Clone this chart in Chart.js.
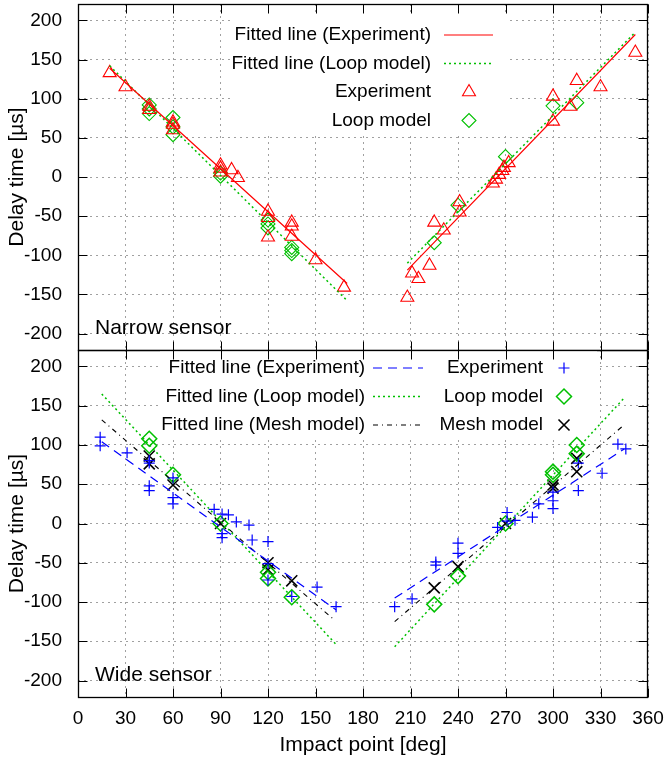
<!DOCTYPE html>
<html>
<head>
<meta charset="utf-8">
<script src="https://cdn.jsdelivr.net/npm/chart.js@4/dist/chart.umd.min.js"></script>
<style>
  html, body { margin: 0; padding: 0; background: #fff; }
  #wrap { position: relative; width: 664px; height: 760px; }
  #wrap canvas { position: absolute; left: 0; }
</style>
</head>
<body>
<div id="wrap">
  <canvas id="narrow" width="664" height="352" style="top:0"></canvas>
  <canvas id="wide" width="664" height="412" style="top:348px"></canvas>
</div>
<script>
var degTicks = [0, 30, 60, 90, 120, 150, 180, 210, 240, 270, 300, 330, 360];
var delayTicks = [-200, -150, -100, -50, 0, 50, 100, 150, 200];

// narrow sensor
var narrowExpDeg = [20, 30, 45, 45, 60, 60, 60, 90, 90, 90, 97, 101, 120, 120, 120, 135, 135, 135, 150, 168,
                    208, 211, 215, 222, 225, 231, 241, 241, 262, 264, 266, 268, 269, 272, 300, 300, 311, 315, 330, 352];
var narrowExpDelay = [133, 115, 90, 86, 70, 67, 60, 15, 11, 6, 9, -1, -44, -52, -77, -58, -63, -76, -106, -141,
                      -154, -123, -130, -113, -58, -68, -32, -45, -8, -3, 3, 8, 12, 18, 103, 71, 90, 123, 115, 159];
var narrowLoopDeg = [45, 45, 45, 60, 60, 60, 90, 90, 120, 120, 120, 135, 135, 135, 225, 240, 270, 300, 315];
var narrowLoopDelay = [92, 87, 81, 76, 64, 54, 5, 1, -55, -60, -65, -90, -94, -98, -84, -36, 26, 91, 95];
var narrowFitExpDeg = [20, 170, 208, 352];
var narrowFitExpDelay = [139, -136, -119, 182];
var narrowFitLoopDeg = [20, 170, 208, 352];
var narrowFitLoopDelay = [142, -158, -110, 185];

// wide sensor
var wideExpDeg = [14, 14, 31, 45, 45, 45, 45, 60, 60, 60, 86, 91, 91, 91, 95, 100, 108, 110, 120, 120, 120, 135, 151, 163,
                  200, 211, 226, 226, 240, 240, 265, 271, 271, 276, 287, 291, 300, 300, 300, 316, 316, 331, 341, 346];
var wideExpDelay = [110, 99, 90, 80, 77, 48, 42, 58, 33, 25, 18, 12, -13, -18, 11, 2, -2, -21, -23, -51, -72, -93, -81, -106,
                    -106, -96, -49, -53, -25, -38, -5, 3, 14, 4, 8, 25, 40, 29, 19, 77, 42, 64, 101, 95];
var wideLoopDeg = [45, 45, 60, 90, 120, 120, 135, 225, 240, 270, 300, 300, 315, 315];
var wideLoopDelay = [108, 99, 62, 0, -62, -70, -94, -103, -67, 0, 66, 62, 100, 89];
var wideMeshDeg = [45, 45, 60, 90, 120, 120, 135, 225, 240, 270, 300, 300, 315, 315];
var wideMeshDelay = [86, 76, 49, 0, -50, -59, -73, -82, -55, 0, 49, 45, 83, 66];
var wideFitExpDeg = [15, 163, 200, 345];
var wideFitExpDelay = [104, -110, -95, 95];
var wideFitLoopDeg = [15, 163, 200, 345];
var wideFitLoopDelay = [165, -154, -157, 160];
var wideFitMeshDeg = [15, 162, 200, 344];
var wideFitMeshDelay = [132, -123, -125, 124];

var FONT = '"Liberation Sans", Arial, sans-serif';
var RED = '#ff0000', GREEN = '#00c000', BLUE = '#0000ff', BLACK = '#000000';
var GRID = '#a0a0a0';

function pts(xs, ys) {
    return xs.map(function (x, i) { return { x: x, y: ys[i] }; });
}

// pairs of points -> separate segments with a gap between them
function segs(xs, ys) {
    var out = [];
    for (var i = 0; i < xs.length; i += 2) {
        if (i > 0) out.push({ x: (xs[i - 1] + xs[i]) / 2, y: null });
        out.push({ x: xs[i], y: ys[i] }, { x: xs[i + 1], y: ys[i + 1] });
    }
    return out;
}

function markerSet(label, xs, ys, color, style, radius, width) {
    return {
        label: label, data: pts(xs, ys), showLine: false,
        borderColor: color, backgroundColor: 'rgba(0,0,0,0)',
        pointStyle: style, pointRadius: radius, pointHoverRadius: radius,
        pointBorderWidth: width, borderWidth: width
    };
}

function fitSet(label, xs, ys, color, dash, width) {
    return {
        label: label, data: segs(xs, ys), showLine: true, spanGaps: false,
        borderColor: color, backgroundColor: color, borderDash: dash,
        borderWidth: width, pointRadius: 0, pointHoverRadius: 0, fill: false
    };
}

function xScale(showLabels) {
    return {
        type: 'linear', min: 0, max: 360,
        afterBuildTicks: function (s) { s.ticks = degTicks.map(function (v) { return { value: v }; }); },
        afterFit: function (s) {
            s.height = showLabels ? 63 : 0;
            s.paddingLeft = 0; s.paddingRight = 0; s.paddingTop = 0; s.paddingBottom = 0;
        },
        grid: { color: GRID, lineWidth: 1, drawTicks: false },
        border: { display: false, dash: [2, 4] },
        ticks: { display: showLabels, font: { family: FONT, size: 19 }, color: '#000', padding: 10, maxRotation: 0, autoSkip: false }
    };
}

function yScale() {
    return {
        type: 'linear', min: -221, max: 221,
        afterBuildTicks: function (s) { s.ticks = delayTicks.map(function (v) { return { value: v }; }); },
        afterFit: function (s) {
            s.width = 78;
            s.paddingLeft = 0; s.paddingRight = 0; s.paddingTop = 0; s.paddingBottom = 0;
        },
        grid: { color: GRID, lineWidth: 1, drawTicks: false },
        border: { display: false, dash: [2, 4] },
        ticks: { font: { family: FONT, size: 19 }, color: '#000', padding: 16, autoSkip: false }
    };
}

// gnuplot-like frame: border, inward ticks, opaque key, labels
var gnuFrame = {
    id: 'gnuFrame',
    beforeDatasetsDraw: function (chart, args, opts) {
        var ctx = chart.ctx, b = opts.keyBox;
        ctx.save();
        ctx.fillStyle = '#fff';
        ctx.fillRect(b[0], b[1], b[2], b[3]);
        ctx.restore();
    },
    afterDatasetsDraw: function (chart, args, opts) {
        var ctx = chart.ctx, a = chart.chartArea;
        var xs = chart.scales.x, ys = chart.scales.y;
        var L = Math.round(a.left) + 0.5, R = Math.round(a.right) - 0.5;
        var T = Math.round(a.top) + 0.5, B = Math.round(a.bottom) + 0.5;
        ctx.save();
        ctx.strokeStyle = '#000';
        ctx.lineWidth = 1;
        ctx.setLineDash([]);
        ctx.beginPath();
        degTicks.forEach(function (v) {
            var px = Math.round(xs.getPixelForValue(v)) + 0.5;
            ctx.moveTo(px, B); ctx.lineTo(px, B - 9);
            ctx.moveTo(px, T); ctx.lineTo(px, T + 9);
        });
        delayTicks.forEach(function (v) {
            var py = Math.round(ys.getPixelForValue(v)) + 0.5;
            ctx.moveTo(L, py); ctx.lineTo(L + 9, py);
            ctx.moveTo(R, py); ctx.lineTo(R - 9, py);
        });
        ctx.stroke();
        ctx.lineWidth = 1.3;
        ctx.strokeRect(L, T, R - L, B - T);

        // key
        ctx.font = '19px ' + FONT;
        ctx.textAlign = 'right';
        ctx.textBaseline = 'middle';
        opts.key.forEach(function (k) {
            var ds = chart.data.datasets[k.ds];
            ctx.fillStyle = '#000';
            ctx.fillText(ds.label, k.textRight, k.y);
            if (ds.showLine) {
                ctx.beginPath();
                ctx.strokeStyle = ds.borderColor;
                ctx.lineWidth = ds.borderWidth;
                ctx.setLineDash(ds.borderDash || []);
                ctx.moveTo(k.sample[0], k.y);
                ctx.lineTo(k.sample[1], k.y);
                ctx.stroke();
                ctx.setLineDash([]);
            } else {
                ctx.strokeStyle = ds.borderColor;
                ctx.fillStyle = 'rgba(0,0,0,0)';
                ctx.lineWidth = ds.pointBorderWidth;
                Chart.helpers.drawPoint(ctx, { pointStyle: ds.pointStyle, radius: ds.pointRadius, rotation: 0, borderWidth: ds.pointBorderWidth }, k.sample[0], k.y);
            }
        });

        // panel label
        ctx.fillStyle = '#000';
        ctx.textAlign = 'left';
        ctx.font = '21px ' + FONT;
        ctx.fillText(opts.panel, 95, opts.panelY);

        // y title
        ctx.save();
        ctx.translate(17, (a.top + a.bottom) / 2);
        ctx.rotate(-Math.PI / 2);
        ctx.textAlign = 'center';
        ctx.fillText('Delay time [µs]', 0, 0);
        ctx.restore();

        if (opts.xTitle) {
            ctx.textAlign = 'center';
            ctx.fillText(opts.xTitle, (a.left + a.right) / 2, opts.xTitleY);
        }
        ctx.restore();
    }
};

function baseOptions(showX, padTop, padBottom, frame) {
    return {
        responsive: false,
        animation: false,
        devicePixelRatio: 1,
        layout: { autoPadding: false, padding: { top: padTop, bottom: padBottom, left: 0, right: 16 } },
        scales: { x: xScale(showX), y: yScale() },
        plugins: { legend: { display: false }, tooltip: { enabled: false }, gnuFrame: frame }
    };
}

new Chart(document.getElementById('narrow'), {
    type: 'scatter',
    data: {
        datasets: [
            fitSet('Fitted line (Experiment)', narrowFitExpDeg, narrowFitExpDelay, RED, [], 1.2),
            fitSet('Fitted line (Loop model)', narrowFitLoopDeg, narrowFitLoopDelay, GREEN, [2, 3], 1.5),
            markerSet('Experiment', narrowExpDeg, narrowExpDelay, RED, 'triangle', 7.5, 1.1),
            markerSet('Loop model', narrowLoopDeg, narrowLoopDelay, GREEN, 'rectRot', 7, 1.1)
        ]
    },
    options: baseOptions(false, 4, 2, {
        keyBox: [231, 14, 276, 120],
        key: [
            { ds: 0, y: 35, textRight: 431, sample: [444, 493] },
            { ds: 1, y: 63.5, textRight: 431, sample: [444, 493] },
            { ds: 2, y: 92, textRight: 431, sample: [469] },
            { ds: 3, y: 120.5, textRight: 431, sample: [469] }
        ],
        panel: 'Narrow sensor', panelY: 328
    }),
    plugins: [gnuFrame]
});

new Chart(document.getElementById('wide'), {
    type: 'scatter',
    data: {
        datasets: [
            fitSet('Fitted line (Experiment)', wideFitExpDeg, wideFitExpDelay, BLUE, [9, 6], 1.2),
            fitSet('Fitted line (Loop model)', wideFitLoopDeg, wideFitLoopDelay, GREEN, [2, 3], 1.5),
            fitSet('Fitted line (Mesh model)', wideFitMeshDeg, wideFitMeshDelay, BLACK, [5, 4, 1, 4], 1.1),
            markerSet('Experiment', wideExpDeg, wideExpDelay, BLUE, 'cross', 5.5, 1.2),
            markerSet('Loop model', wideLoopDeg, wideLoopDelay, GREEN, 'rectRot', 7.5, 1.5),
            markerSet('Mesh model', wideMeshDeg, wideMeshDelay, BLACK, 'crossRot', 7.8, 1.6)
        ]
    },
    options: baseOptions(true, 2, 0, {
        keyBox: [160, 2, 437, 88],
        key: [
            { ds: 0, y: 20, textRight: 365, sample: [373, 423] },
            { ds: 1, y: 48.5, textRight: 365, sample: [373, 423] },
            { ds: 2, y: 77, textRight: 365, sample: [373, 423] },
            { ds: 3, y: 20, textRight: 543, sample: [564] },
            { ds: 4, y: 48.5, textRight: 543, sample: [564] },
            { ds: 5, y: 77, textRight: 543, sample: [564] }
        ],
        panel: 'Wide sensor', panelY: 327,
        xTitle: 'Impact point [deg]', xTitleY: 397
    }),
    plugins: [gnuFrame]
});
</script>
</body>
</html>
